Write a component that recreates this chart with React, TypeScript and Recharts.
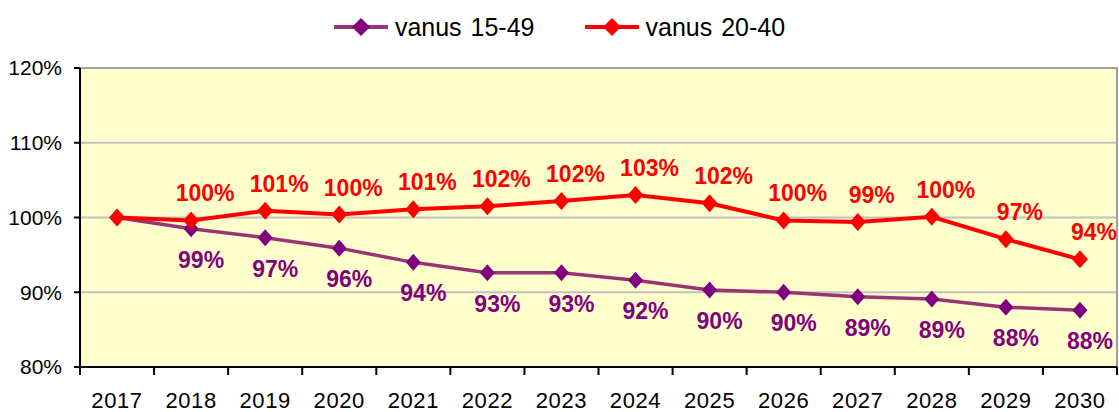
import React from 'react';
import { LineChart, Line, XAxis, YAxis, CartesianGrid, LabelList, ReferenceArea } from 'recharts';

const years = ['2017', '2018', '2019', '2020', '2021', '2022', '2023', '2024', '2025', '2026', '2027', '2028', '2029', '2030'];
const age1549 = [100, 98.5, 97.3, 95.9, 94.0, 92.6, 92.6, 91.6, 90.3, 90.0, 89.4, 89.1, 88.0, 87.6];
const age2040 = [100, 99.6, 100.9, 100.4, 101.1, 101.5, 102.2, 103.0, 101.9, 99.6, 99.4, 100.1, 97.1, 94.4];
const yTicks = [80, 90, 100, 110, 120];

const name1549 = 'vanus 15-49';
const name2040 = 'vanus 20-40';

const data = years.map((y, i) => ({ year: y, a: age1549[i], b: age2040[i] }));

const FONT = '"Liberation Sans", Arial, sans-serif';
const PURPLE = '#800080';
const PURPLE_LINE = '#993373';
const RED = '#FF0000';

const Diamond = (color: string, r: number) => (props: any) => {
  const { cx, cy } = props;
  if (cx == null || cy == null) return null;
  return (
    <polygon
      points={`${cx},${cy - r - 1} ${cx + r},${cy} ${cx},${cy + r + 1} ${cx - r},${cy}`}
      fill={color}
      stroke="none"
    />
  );
};

const makeLabel = (color: string, dx: number, dy: number) => (props: any) => {
  const { x, y, value, index } = props;
  if (index === 0) return null;
  return (
    <text
      x={x + dx}
      y={y + dy}
      textAnchor="middle"
      dominantBaseline="central"
      fill={color}
      fontFamily={FONT}
      fontWeight="bold"
      fontSize={23}
    >
      {Math.round(value)}%
    </text>
  );
};

const XTick = (props: any) => {
  const { x, y, payload, width, visibleTicksCount, index } = props;
  const bw = width / visibleTicksCount;
  const axisY = y - 8;
  return (
    <g>
      {index === 0 && <line x1={x - bw / 2} x2={x - bw / 2} y1={axisY} y2={axisY + 8} stroke="#000" strokeWidth={2} />}
      <line x1={x + bw / 2} x2={x + bw / 2} y1={axisY} y2={axisY + 8} stroke="#000" strokeWidth={2} />
      <text x={x} y={y + 33} textAnchor="middle" fill="#000" fontFamily={FONT} fontSize={22} letterSpacing={0.6}>
        {payload.value}
      </text>
    </g>
  );
};

const LegendItem = ({ color, lineColor, label }: { color: string; lineColor: string; label: string }) => (
  <div style={{ display: 'flex', alignItems: 'center' }}>
    <svg width={54} height={20}>
      <line x1={0} x2={54} y1={10} y2={10} stroke={lineColor} strokeWidth={4} />
      <polygon points="27,1 36,10 27,19 18,10" fill={color} />
    </svg>
    <span style={{ marginLeft: 7, fontFamily: FONT, fontSize: 25, color: '#000', wordSpacing: 2 }}>{label}</span>
  </div>
);

export default function App() {
  return (
    <div style={{ position: 'absolute', left: 0, top: 0, width: 1119, height: 412, background: '#fff' }}>
      <div
        style={{
          position: 'absolute',
          left: 0,
          top: 0,
          width: 1119,
          height: 54,
          display: 'flex',
          justifyContent: 'center',
          alignItems: 'center',
          gap: 50,
        }}
      >
        <LegendItem color={PURPLE} lineColor={PURPLE_LINE} label={name1549} />
        <LegendItem color={RED} lineColor={RED} label={name2040} />
      </div>
      <LineChart width={1119} height={412} data={data} margin={{ top: 68, right: 2, bottom: 0, left: 0 }}>
        <CartesianGrid fill="#FFFFCC" vertical={false} stroke="#C0C0C0" strokeWidth={2} />
        <ReferenceArea y1={80} y2={120} fill="none" stroke="#A0A0A0" strokeWidth={2} ifOverflow="visible" />
        <XAxis
          dataKey="year"
          scale="band"
          interval={0}
          height={45}
          axisLine={{ stroke: '#000', strokeWidth: 2 }}
          tickLine={false}
          tickSize={8}
          tickMargin={0}
          tick={<XTick />}
        />
        <YAxis
          domain={[80, 120]}
          ticks={yTicks}
          width={80}
          axisLine={{ stroke: '#000', strokeWidth: 2 }}
          tickLine={{ stroke: '#000', strokeWidth: 2 }}
          tickSize={6}
          tickMargin={12}
          tickFormatter={(v: number) => `${v}%`}
          tick={{ fill: '#000', fontFamily: FONT, fontSize: 21 }}
        />
        <Line
          dataKey="a"
          name={name1549}
          stroke={PURPLE_LINE}
          strokeWidth={3.5}
          dot={Diamond(PURPLE, 7.5)}
          activeDot={false}
          isAnimationActive={false}
        >
          <LabelList dataKey="a" content={makeLabel(PURPLE, 10, 31)} />
        </Line>
        <Line
          dataKey="b"
          name={name2040}
          stroke={RED}
          strokeWidth={4}
          dot={Diamond(RED, 8)}
          activeDot={false}
          isAnimationActive={false}
        >
          <LabelList dataKey="b" content={makeLabel(RED, 14, -27)} />
        </Line>
      </LineChart>
    </div>
  );
}
